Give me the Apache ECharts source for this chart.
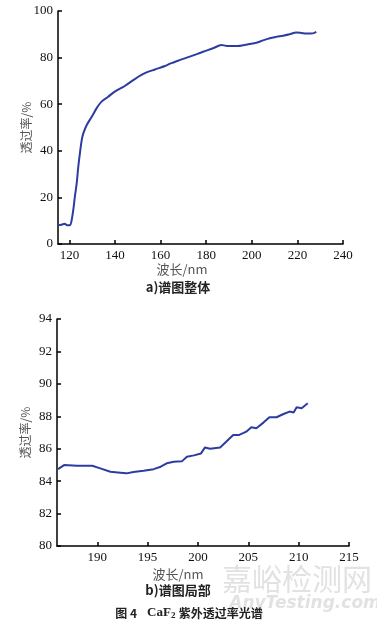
<!DOCTYPE html>
<html>
<head>
<meta charset="utf-8">
<script src="https://cdn.jsdelivr.net/npm/echarts@6/dist/echarts.min.js"></script>
<style>
  html, body { margin: 0; padding: 0; background: #fff; }
  #chart { width: 377px; height: 623px; }
</style>
</head>
<body>
<div id="chart"></div>
<script>
// a) 谱图整体
const wlA = [115, 116.5, 118, 119, 120.3, 121, 121.7, 122.4, 123.2, 123.9, 124.6, 125.4, 126.1, 127.6, 129.8, 131.9, 134.1, 137, 139.9, 144.3, 148.7, 153.1, 157.5, 161.9, 164.1, 168, 172.8, 178.6, 183, 186.7, 188.5, 190.3, 194, 196.2, 199, 202, 205, 207.9, 210.8, 213.7, 216.6, 219.5, 221.7, 223.9, 226.8, 228.3]
const tA = [8.2, 8.3, 8.7, 8.1, 8.1, 10.3, 14.6, 20.3, 26, 33.2, 38.9, 44.6, 47.5, 51.1, 54.6, 58.2, 61.1, 63.2, 65.4, 67.8, 70.8, 73.3, 74.9, 76.4, 77.4, 78.8, 80.4, 82.5, 84.0, 85.4, 85.1, 85.0, 85.0, 85.3, 85.8, 86.4, 87.4, 88.3, 88.9, 89.4, 90.0, 90.8, 90.6, 90.3, 90.4, 91.0]
const ticksXA = [120, 140, 160, 180, 200, 220, 240]

// b) 谱图局部
const wlB = [186.1, 186.7, 188.0, 189.5, 190.3, 191.3, 192.3, 192.9, 193.6, 194.6, 195.6, 196.3, 196.9, 197.6, 198.4, 198.9, 199.6, 200.3, 200.7, 201.2, 202.2, 202.8, 203.5, 204.1, 204.8, 205.3, 205.8, 206.5, 207.1, 207.8, 208.5, 209.1, 209.5, 209.8, 210.3, 210.9]
const tB = [84.74, 84.99, 84.95, 84.95, 84.79, 84.58, 84.52, 84.48, 84.57, 84.64, 84.74, 84.89, 85.1, 85.2, 85.22, 85.51, 85.59, 85.71, 86.08, 86.0, 86.08, 86.43, 86.85, 86.85, 87.05, 87.32, 87.26, 87.61, 87.94, 87.94, 88.14, 88.29, 88.23, 88.56, 88.5, 88.81]
const ticksXB = [190, 195, 200, 205, 210, 215]

const lineColor = '#2d3ca0'
const serif = 'Liberation Serif'
const cjk = 'Noto Sans CJK SC'

function xAxisOf(gridIndex, min, max, ticks) {
  return {
    type: 'value', gridIndex, min, max,
    axisLine: { lineStyle: { color: '#000', width: 1.5 } },
    axisTick: { inside: true, length: 4, customValues: ticks, lineStyle: { color: '#000', width: 1.5 } },
    axisLabel: { customValues: ticks, margin: 5, color: '#111', fontFamily: serif, fontSize: 13 },
    splitLine: { show: false },
  }
}

function yAxisOf(gridIndex, min, max, interval) {
  return {
    type: 'value', gridIndex, min, max, interval,
    name: '透过率/%',
    nameLocation: 'middle',
    nameGap: 26,
    nameMoveOverlap: false,
    nameTextStyle: { color: '#555', fontFamily: cjk, fontSize: 12 },
    axisLine: { show: true, lineStyle: { color: '#000', width: 1.5 } },
    axisTick: { show: true, inside: true, length: 4, lineStyle: { color: '#000', width: 1.5 } },
    axisLabel: { color: '#111', fontFamily: serif, fontSize: 13, margin: 5 },
    splitLine: { show: false },
  }
}

function caption(text, x, y, opts = {}) {
  return {
    type: 'text', x, y,
    style: {
      text, align: 'center', verticalAlign: 'middle',
      fill: opts.fill || '#222',
      font: opts.font || `12px "${cjk}"`,
    },
    z: opts.z || 10,
  }
}

const chart = echarts.init(document.getElementById('chart'))
chart.setOption({
  animation: false,
  grid: [
    { left: 58, top: 11, width: 285, height: 233, outerBoundsMode: 'none' },
    { left: 57, top: 319, width: 292, height: 227, outerBoundsMode: 'none' },
  ],
  xAxis: [
    xAxisOf(0, 115, 240, ticksXA),
    xAxisOf(1, 186, 215, ticksXB),
  ],
  yAxis: [
    yAxisOf(0, 0, 100, 20),
    yAxisOf(1, 80, 94, 2),
  ],
  series: [
    {
      type: 'line', xAxisIndex: 0, yAxisIndex: 0,
      data: wlA.map((w, i) => [w, tA[i]]),
      showSymbol: false, smooth: 0.3,
      lineStyle: { color: lineColor, width: 2 },
    },
    {
      type: 'line', xAxisIndex: 1, yAxisIndex: 1,
      data: wlB.map((w, i) => [w, tB[i]]),
      showSymbol: false,
      lineStyle: { color: lineColor, width: 2 },
    },
  ],
  graphic: [
    caption('嘉峪检测网', 297, 579, { fill: '#e2e2e2', font: `30px "${cjk}"`, z: 1 }),
    caption('AnyTesting.com', 305, 604, { fill: '#e2e2e2', font: `italic bold 17px "DejaVu Sans"`, z: 1 }),
    caption('波长/nm', 182, 269, { fill: '#555', font: `13px "${cjk}"` }),
    caption('a)谱图整体', 178, 287, { font: `bold 13px "${cjk}"` }),
    caption('波长/nm', 178, 574, { fill: '#555', font: `13px "${cjk}"` }),
    caption('b)谱图局部', 178, 590, { font: `bold 13px "${cjk}"` }),
    {
      type: 'text', x: 189, y: 613, z: 10,
      style: {
        text: '{a|图 4}   {b|CaF}{s|2} {a|紫外透过率光谱}',
        align: 'center', verticalAlign: 'middle',
        rich: {
          a: { font: `bold 12px "${cjk}"`, fill: '#222' },
          b: { font: `bold 13px "${serif}"`, fill: '#222' },
          s: { font: `bold 9px "${serif}"`, fill: '#222', padding: [6, 0, 0, 0] },
        },
      },
    },
  ],
})
</script>
</body>
</html>
